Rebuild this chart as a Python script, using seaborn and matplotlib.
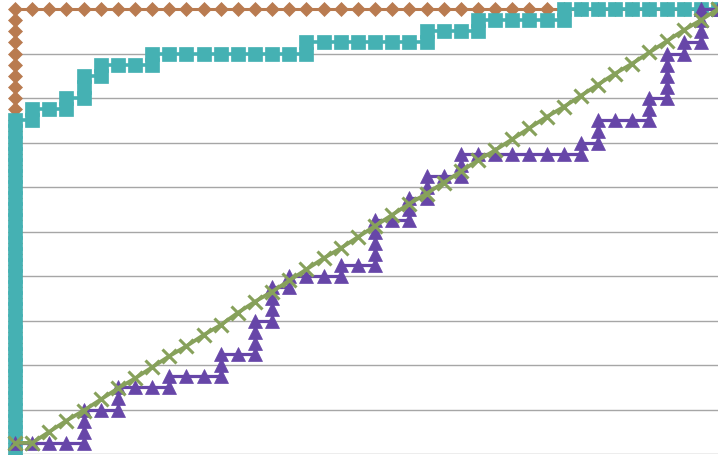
import numpy as np
import pandas as pd
import seaborn as sns
import matplotlib.pyplot as plt

sns.set_style("white")

# step counts (x: 41 negatives, y: 40 positives)
n_neg = 41
n_pos = 40

perfect_fp = [0, 0, 0, 0, 0, 0, 0, 0, 0, 0, 0, 0, 0, 0, 0, 0, 0, 0, 0, 0, 0,
              0, 0, 0, 0, 0, 0, 0, 0, 0, 0, 0, 0, 0, 0, 0, 0, 0, 0, 0, 0,
              1, 2, 3, 4, 5, 6, 7, 8, 9, 10, 11, 12, 13, 14, 15, 16, 17, 18, 19, 20,
              21, 22, 23, 24, 25, 26, 27, 28, 29, 30, 31, 32, 33, 34, 35, 36, 37, 38, 39, 40, 41]
perfect_tp = [0, 1, 2, 3, 4, 5, 6, 7, 8, 9, 10, 11, 12, 13, 14, 15, 16, 17, 18, 19, 20,
              21, 22, 23, 24, 25, 26, 27, 28, 29, 30, 31, 32, 33, 34, 35, 36, 37, 38, 39, 40,
              40, 40, 40, 40, 40, 40, 40, 40, 40, 40, 40, 40, 40, 40, 40, 40, 40, 40, 40, 40,
              40, 40, 40, 40, 40, 40, 40, 40, 40, 40, 40, 40, 40, 40, 40, 40, 40, 40, 40, 40, 40]

model_a_fp = [0, 0, 0, 0, 0, 0, 0, 0, 0, 0, 0, 0, 0, 0, 0, 0, 0, 0, 0, 0, 0,
              0, 0, 0, 0, 0, 0, 0, 0, 0, 0,
              1, 1, 2, 3, 3, 4, 4, 4, 5, 5, 6, 7, 8, 8,
              9, 10, 11, 12, 13, 14, 15, 16, 17, 17,
              18, 19, 20, 21, 22, 23, 24, 24, 25, 26, 27, 27,
              28, 29, 30, 31, 32, 32, 33, 34, 35, 36, 37, 38, 39, 40, 41]
model_a_tp = [0, 1, 2, 3, 4, 5, 6, 7, 8, 9, 10, 11, 12, 13, 14, 15, 16, 17, 18, 19, 20,
              21, 22, 23, 24, 25, 26, 27, 28, 29, 30,
              30, 31, 31, 31, 32, 32, 33, 34, 34, 35, 35, 35, 35, 36,
              36, 36, 36, 36, 36, 36, 36, 36, 36, 37,
              37, 37, 37, 37, 37, 37, 37, 38, 38, 38, 38, 39,
              39, 39, 39, 39, 39, 40, 40, 40, 40, 40, 40, 40, 40, 40, 40]

model_b_fp = [0, 1, 2, 3, 4, 4, 4, 4, 5, 6, 6, 6, 7, 8, 9, 9, 10, 11, 12, 12, 12,
              13, 14, 14, 14, 14, 15, 15, 15, 15, 16, 16, 17, 18, 19, 19, 20,
              21, 21, 21, 21, 21, 22, 23, 23, 23, 24, 24, 24, 25, 26, 26, 26,
              27, 28, 29, 30, 31, 32, 33, 33, 34, 34, 34, 35, 36, 37, 37, 37,
              38, 38, 38, 38, 38, 39, 39, 40, 40, 40, 40, 41]
model_b_tp = [1, 1, 1, 1, 1, 2, 3, 4, 4, 4, 5, 6, 6, 6, 6, 7, 7, 7, 7, 8, 9,
              9, 9, 10, 11, 12, 12, 13, 14, 15, 15, 16, 16, 16, 16, 17, 17,
              17, 18, 19, 20, 21, 21, 21, 22, 23, 23, 24, 25, 25, 25, 26, 27,
              27, 27, 27, 27, 27, 27, 27, 28, 28, 29, 30, 30, 30, 30, 31, 32,
              32, 33, 34, 35, 36, 36, 37, 37, 38, 39, 40, 40]

random_fp = [0, 1, 2, 3, 4, 5, 6, 7, 8, 9, 10, 11, 12, 13, 14, 15, 16, 17, 18, 19, 20,
             21, 22, 23, 24, 25, 26, 27, 28, 29, 30, 31, 32, 33, 34, 35, 36, 37, 38, 39, 40, 41]
random_tp = [1.0, 1.0, 2.0, 3.0, 3.9, 4.9, 5.9, 6.8, 7.8, 8.8, 9.7, 10.7, 11.6, 12.7,
             13.7, 14.6, 15.6, 16.6, 17.6, 18.5, 19.5, 20.5, 21.5, 22.5, 23.4, 24.4,
             25.4, 26.4, 27.3, 28.3, 29.3, 30.3, 31.2, 32.2, 33.2, 34.2, 35.1, 36.1,
             37.1, 38.1, 39.0, 40.0]

W, H = 718, 456
fig = plt.figure(figsize=(W / 100, H / 100), dpi=100)
ax = fig.add_axes([15 / W, 1 / H, 703 / W, 445 / H])

series = [
    (perfect_fp, perfect_tp, "#b97b50", "D", 7.2, 2.2),
    (model_a_fp, model_a_tp, "#45b1b3", "s", 10.0, 2.6),
    (model_b_fp, model_b_tp, "#6746a8", "^", 9.8, 2.3),
]
for fp, tp, col, mk, ms, lw in series:
    sns.lineplot(x=np.array(fp) / n_neg, y=np.array(tp) / n_pos, sort=False,
                 estimator=None, color=col, marker=mk, markersize=ms,
                 markeredgecolor=col, markeredgewidth=0.5, linewidth=lw,
                 clip_on=False, ax=ax)

sns.lineplot(x=np.array(random_fp) / n_neg, y=np.array(random_tp) / n_pos, sort=False,
             estimator=None, color="#87a15b", marker="x", markersize=10.0,
             markeredgecolor="#87a15b", markeredgewidth=2.2, linewidth=2.7,
             clip_on=False, ax=ax)

ax.set_xlim(0, 1)
ax.set_ylim(0, 1)
ax.set_yticks(np.arange(0, 1.01, 0.1))
ax.set_xticks([])
ax.yaxis.grid(True, color="#a6a6a6", linewidth=1.0)
ax.set_axisbelow(True)
ax.tick_params(length=0, labelleft=False, labelbottom=False)
for s in ax.spines.values():
    s.set_visible(False)
ax.set_xlabel("")
ax.set_ylabel("")

fig.savefig("out.png", dpi=100)
